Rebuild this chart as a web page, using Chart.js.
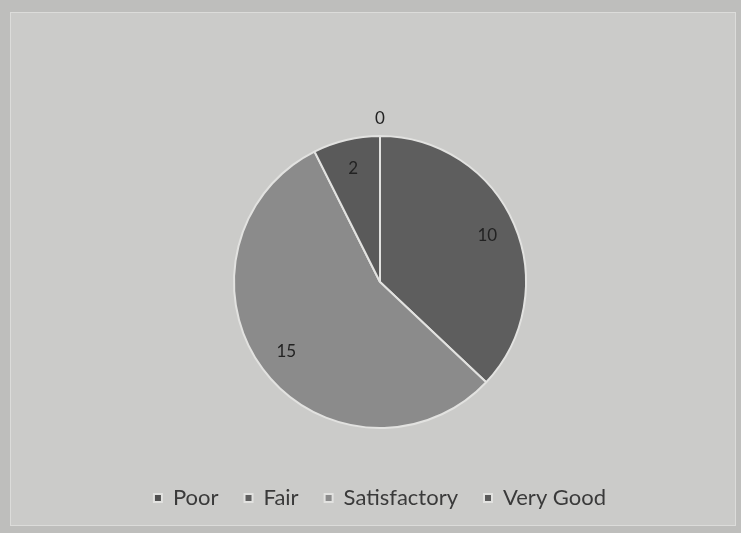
<!DOCTYPE html>
<html>
<head>
<meta charset="utf-8">
<script src="https://cdn.jsdelivr.net/npm/chart.js@4/dist/chart.umd.min.js"></script>
<style>
  html, body { margin: 0; padding: 0; background: #bebebc; }
  #wrap {
    position: absolute; left: 10px; top: 12px; width: 724px; height: 512px;
    background: #cbcbc9; border: 1px solid #dcdcda;
  }
  canvas { position: absolute; left: -11px; top: -13px; }
</style>
</head>
<body>
<div id="wrap"><canvas id="pie" width="741" height="533"></canvas></div>
<script>
const labels = ['Poor', 'Fair', 'Satisfactory', 'Very Good'];
const counts = [0, 10, 15, 2];
const colors = ['#505050', '#5e5e5e', '#8b8b8b', '#5a5a5a'];

// value labels: inside the slice, or just outside for an empty slice
const valueLabels = {
  id: 'valueLabels',
  afterDatasetsDraw(chart) {
    const ctx = chart.ctx;
    const meta = chart.getDatasetMeta(0);
    ctx.save();
    ctx.font = '17px Lato, "Open Sans", sans-serif';
    ctx.textAlign = 'center';
    ctx.textBaseline = 'middle';
    meta.data.forEach((arc, i) => {
      const p = arc.getProps(['x', 'y', 'startAngle', 'endAngle', 'outerRadius']);
      const mid = (p.startAngle + p.endAngle) / 2;
      const r = counts[i] === 0 ? p.outerRadius + 17 : p.outerRadius * 0.8;
      const x = p.x + Math.cos(mid) * r;
      const y = p.y + Math.sin(mid) * r;
      ctx.fillStyle = '#222';
      ctx.fillText(String(counts[i]), x, y);
    });
    ctx.restore();
  }
};

new Chart(document.getElementById('pie').getContext('2d'), {
  type: 'pie',
  data: {
    labels: labels,
    datasets: [{
      data: counts,
      backgroundColor: colors,
      borderColor: '#e2e2e0',
      borderWidth: 2,
      radius: 146,
    }],
  },
  plugins: [valueLabels],
  options: {
    responsive: false,
    animation: false,
    layout: { padding: { left: 19, right: 0, top: 103, bottom: 14 } },
    plugins: {
      tooltip: { enabled: false },
      legend: {
        position: 'bottom',
        labels: {
          boxWidth: 8,
          boxHeight: 8,
          padding: 26,
          color: '#3a3a3a',
          font: { family: 'Lato, "Open Sans", sans-serif', size: 22 },
        },
      },
    },
  },
});
</script>
</body>
</html>
